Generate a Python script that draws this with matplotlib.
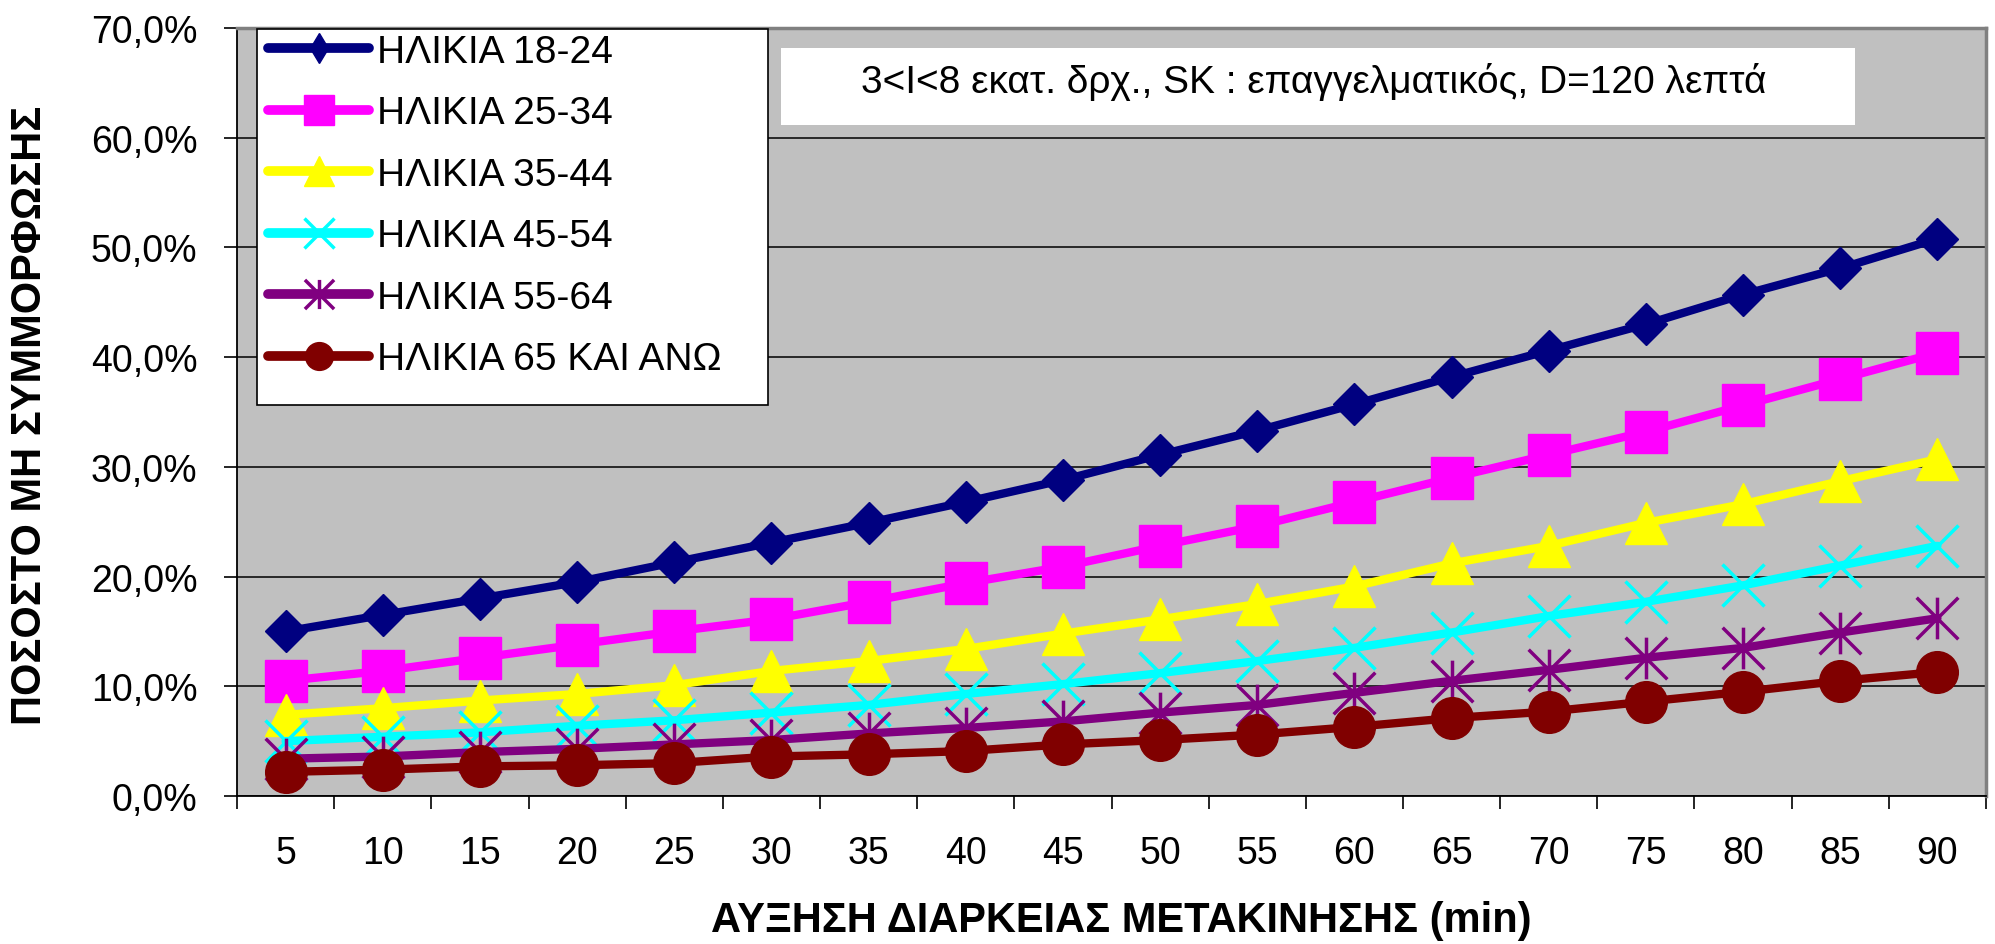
import matplotlib as mpl
mpl.use('Agg')
import matplotlib.pyplot as plt
import numpy as np
from matplotlib.path import Path
from matplotlib.patches import Rectangle

# Data (percent)
minutes = ['5', '10', '15', '20', '25', '30', '35', '40', '45',
           '50', '55', '60', '65', '70', '75', '80', '85', '90']
age_18_24 = [15.0, 16.5, 18.0, 19.5, 21.3, 23.1, 24.9, 26.8, 28.8,
             31.1, 33.3, 35.7, 38.2, 40.6, 43.0, 45.7, 48.1, 50.8]
age_25_34 = [10.5, 11.4, 12.6, 13.8, 15.0, 16.1, 17.7, 19.4, 20.9,
             22.8, 24.6, 26.8, 29.0, 31.1, 33.2, 35.6, 38.0, 40.4]
age_35_44 = [7.4, 8.0, 8.7, 9.3, 10.1, 11.4, 12.3, 13.4, 14.8,
             16.1, 17.5, 19.1, 21.2, 22.8, 24.9, 26.6, 28.7, 30.7]
age_45_54 = [5.0, 5.4, 5.8, 6.4, 6.9, 7.6, 8.3, 9.3, 10.2,
             11.2, 12.3, 13.5, 14.9, 16.4, 17.7, 19.2, 21.0, 22.8]
age_55_64 = [3.4, 3.6, 4.0, 4.3, 4.7, 5.1, 5.7, 6.2, 6.8,
             7.6, 8.3, 9.4, 10.5, 11.5, 12.6, 13.5, 14.9, 16.2]
age_65_up = [2.2, 2.4, 2.7, 2.8, 3.0, 3.6, 3.8, 4.1, 4.7,
             5.1, 5.6, 6.3, 7.1, 7.7, 8.6, 9.5, 10.5, 11.3]
labels = ['ΗΛΙΚΙΑ 18-24', 'ΗΛΙΚΙΑ 25-34', 'ΗΛΙΚΙΑ 35-44',
          'ΗΛΙΚΙΑ 45-54', 'ΗΛΙΚΙΑ 55-64', 'ΗΛΙΚΙΑ 65 ΚΑΙ ΑΝΩ']
y_ticks = [0, 10, 20, 30, 40, 50, 60, 70]

# Excel-style asterisk marker (x plus vertical bar)
star = Path([(-1, -1), (1, 1), (-1, 1), (1, -1), (0, -1), (0, 1)],
            [Path.MOVETO, Path.LINETO, Path.MOVETO, Path.LINETO, Path.MOVETO, Path.LINETO])

styles = [
    dict(color='#000080', marker='D', ms=21),
    dict(color='#FF00FF', marker='s', ms=30),
    dict(color='#FFFF00', marker='^', ms=30),
    dict(color='#00FFFF', marker='x', ms=30, mew=2.5),
    dict(color='#800080', marker=star, ms=30, mew=2.5, mfc='none'),
    dict(color='#800000', marker='o', ms=30),
]

mpl.rcParams['font.family'] = ['Liberation Sans', 'DejaVu Sans']

W, H = 1995, 945
fig = plt.figure(figsize=(W / 100, H / 100), dpi=100)
ax = fig.add_axes([237 / W, 1 - 797 / H, 1749 / W, 768 / H])
ax.set_facecolor('#C0C0C0')

x = np.arange(len(minutes))
series = [age_18_24, age_25_34, age_35_44, age_45_54, age_55_64, age_65_up]
for vals, lab, st in zip(series, labels, styles):
    ax.plot(x, vals, lw=6, label=lab, solid_capstyle='round', **st)

ax.set_xlim(-0.5, len(minutes) - 0.5)
ax.set_ylim(0, 70)
ax.set_yticks(y_ticks)
ax.set_yticklabels([f'{v:.1f}%'.replace('.', ',') for v in y_ticks], fontsize=27)
ax.yaxis.grid(True, color='black', lw=1.1)
ax.set_axisbelow(True)

# ticks between categories, labels centered
ax.set_xticks(np.arange(-0.5, len(minutes), 1.0))
ax.set_xticklabels([])
ax.set_xticks(x, minor=True)
ax.set_xticklabels(minutes, minor=True, fontsize=27)
ax.tick_params(axis='x', which='major', length=9.6, width=1.2, direction='out')
ax.tick_params(axis='x', which='minor', length=0, pad=28)
ax.tick_params(axis='y', length=9.6, width=1.2, pad=19)

for s in ['left', 'bottom']:
    ax.spines[s].set_color('black')
    ax.spines[s].set_linewidth(1.3)
for s in ['top', 'right']:
    ax.spines[s].set_color('#808080')
    ax.spines[s].set_linewidth(2.5)

# legend box drawn by hand (inside the axes), entries placed on top
ax.add_patch(Rectangle((257 / W, 1 - 406 / H), 511 / W, 376 / H,
                       transform=fig.transFigure, facecolor='white',
                       edgecolor='black', lw=1.2, zorder=4, clip_on=False))
leg = ax.legend(loc='upper left', bbox_to_anchor=(268 / W, 1 - 35 / H),
                bbox_transform=fig.transFigure, borderaxespad=0, borderpad=0,
                fontsize=28, frameon=False, handlelength=2.6, handletextpad=0.2,
                labelspacing=0.655)
leg.set_zorder(6)
legend_marks = [('d', 14.8), ('s', 21), ('^', 21), ('x', 21), (star, 21), ('o', 20)]
for h, (m, size) in zip(leg.legend_handles, legend_marks):
    h.set_marker(m)
    h.set_markersize(size)
    h.set_linewidth(7)
    h.set_solid_capstyle('round')

# annotation box
ax.add_patch(Rectangle((781 / W, 1 - 126 / H), 1074 / W, 77 / H,
                       transform=fig.transFigure, facecolor='white',
                       edgecolor='none', zorder=4, clip_on=False))
fig.text(1314 / W, 1 - 92.7 / H,
         '3<I<8 εκατ. δρχ., SK : επαγγελματικός, D=120 λεπτά',
         ha='center', va='baseline', fontsize=28, zorder=6)

fig.text(30 / W, 1 - 415 / H, 'ΠΟΣΟΣΤΟ ΜΗ ΣΥΜΜΟΡΦΩΣΗΣ',
         rotation=90, ha='center', va='center', fontsize=30, fontweight='bold')
fig.text(1121 / W, 1 - 921 / H, 'ΑΥΞΗΣΗ ΔΙΑΡΚΕΙΑΣ ΜΕΤΑΚΙΝΗΣΗΣ (min)',
         ha='center', va='center', fontsize=30, fontweight='bold')

fig.savefig('out.png', dpi=100)
